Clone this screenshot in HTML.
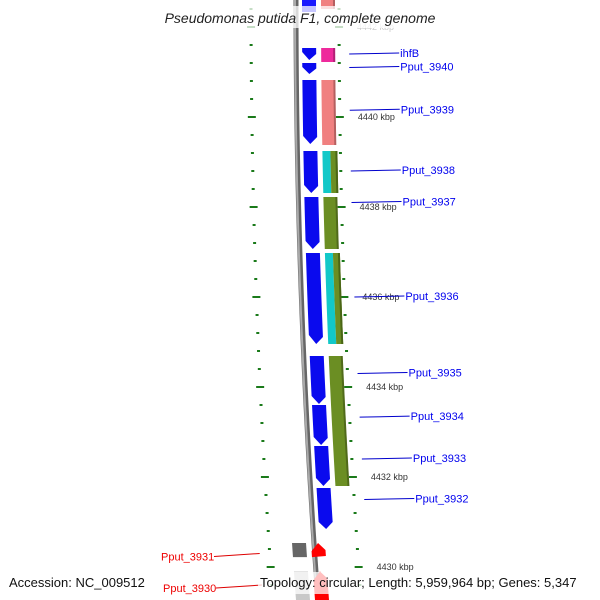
<!DOCTYPE html>
<html><head><meta charset="utf-8"><style>
html,body{margin:0;padding:0;background:#fff;}
svg{display:block;font-family:"Liberation Sans",sans-serif;}
</style></head><body>
<svg id="map" width="600" height="600" viewBox="0 0 600 600" xmlns="http://www.w3.org/2000/svg"></svg>
<script>
const geneNames=["ihfB","Pput_3940","Pput_3939","Pput_3938","Pput_3937","Pput_3936","Pput_3935","Pput_3934","Pput_3933","Pput_3932"];
const geneStart=[4441.533,4441.20,4440.822,4439.244,4438.222,4436.978,4434.689,4433.60,4432.689,4431.756];
const geneEnd=[4441.267,4440.956,4439.40,4438.311,4437.067,4434.956,4433.622,4432.711,4431.80,4430.844];
const labelKbp=[4441.4,4441.1,4440.15,4438.8,4438.1,4436.0,4434.3,4433.33,4432.4,4431.5];
const cogStart=[4441.533,4440.822,4439.244,4438.222,4436.978,4434.689,4442.7];
const cogEnd=[4441.222,4439.378,4438.311,4437.067,4434.956,4431.8,4442.4];
const cogColor=["#ee2a9c","#f08080","cyan-olive","#6b8e23","cyan-olive","#6b8e23","#f08080"];
const fwdNames=["Pput_3931","Pput_3930"];
const fwdStart=[4430.22,4429.9];
const fwdEnd=[4430.533,4429.0];
const fwdLabelKbp=[4430.3,4429.6];
const tickLabels=[4442,4440,4438,4436,4434,4432,4430];

const svg=document.getElementById('map');
const NS="http://www.w3.org/2000/svg";
const yOf=k=>117+(4440-k)*45;
const f=y=>296+22*Math.pow(y/600,2);
function mk(tag,attrs,parent){const e=document.createElementNS(NS,tag);for(const k in attrs)e.setAttribute(k,attrs[k]);(parent||svg).appendChild(e);return e;}
function strip(off,w,y1,y2,fill,name){
  const pts=[];for(let y=y1;y<=y2;y+=2)pts.push([f(y)+off,y]);pts.push([f(y2)+off,y2]);
  const back=[];for(let y=y2;y>=y1;y-=2)back.push([f(y)+off+w,y]);back.push([f(y1)+off+w,y1]);
  const p=mk('polygon',{points:pts.concat(back).map(p=>p.join(',')).join(' '),fill:fill});
  
  
  return p;
}
// backbone
let d="";for(let y=-5;y<=605;y+=5)d+=(y==-5?"M":"L")+f(y)+","+y;
const bb=mk('path',{d:d,stroke:"#666",'stroke-width':5,fill:"none"});


const bb2=mk('path',{d:d,stroke:"#aaa",'stroke-width':2,fill:"none",transform:"translate(-1,0)"});


// ticks
for(let k=4442.8;k>=4428.8;k-=0.4){
  const kk=Math.round(k*10)/10;const y=yOf(kk);if(y<0||y>600)continue;
  const major=Math.abs(kk-Math.round(kk/2)*2)<0.01;
  const w=major?8:3;
  const t1=mk('rect',{x:f(y)-45-w/2,y:y-1,width:w,height:2,fill:"#1a7a1a"});
  
  
  const t2=mk('rect',{x:f(y)+43-w/2,y:y-1,width:w,height:2,fill:"#1a7a1a"});
  
  
}
tickLabels.forEach(k=>{const y=yOf(k);
  const t=mk('text',{x:f(y)+61,y:y+3,'font-size':9,fill:k==4442?"#ccc":"#333"});t.textContent=k+" kbp";
  
  });
// COG strip
cogStart.forEach((s,i)=>{const y1=yOf(s),y2=yOf(cogEnd[i]);
  if(cogColor[i]=="cyan-olive"){strip(25,8,y1,y2,"#12c8c8","cog-block");strip(33,7,y1,y2,"#6b8e23","cog-block");strip(38,2,y1,y2,"#4a6616","cog-edge");}
  else{strip(25,14,y1,y2,cogColor[i],"cog-block");strip(37,2,y1,y2,"rgba(0,0,0,0.25)","cog-edge");}
});
// reverse genes (arrows down)
function arrow(off,w,y1,y2,fill,dir,name){
  const h=Math.min(7,(y2-y1)/2);const pts=[];
  if(dir>0){ // down
    for(let y=y1;y<=y2-h;y+=2)pts.push([f(y)+off,y]);
    pts.push([f(y2)+off+w/2,y2]);
    for(let y=y2-h;y>=y1;y-=2)pts.push([f(y)+off+w,y]);
    pts.push([f(y1)+off+w,y1]);
  } else {
    pts.push([f(y1)+off+w/2,y1]);
    for(let y=y1+h;y<=y2;y+=2)pts.push([f(y)+off+w,y]);
    for(let y=y2;y>=y1+h;y-=2)pts.push([f(y)+off,y]);
  }
  const p=mk('polygon',{points:pts.map(p=>p.join(',')).join(' '),fill:fill});
  
  
}
strip(6,14,-5,12,"#1a1aff","gene-partial");
geneStart.forEach((s,i)=>{const y1=yOf(s),y2=yOf(geneEnd[i]);
  arrow(6,14,y1,y2,"#0a0aee",1,"gene-"+geneNames[i].toLowerCase());
  const ly=yOf(labelKbp[i]);const lx=f(ly)+103;
  const l=mk('line',{x1:f(ly)+53,y1:ly,x2:lx,y2:ly-1,stroke:"#0000cc",'stroke-width':1});
  
  
  const t=mk('text',{x:lx+1,y:ly+3,'font-size':11,fill:"#0000ee"});t.textContent=geneNames[i];
  
  
});
// forward genes bottom
fwdStart.forEach((s,i)=>{const y1=yOf(fwdEnd[i])<yOf(s)?yOf(fwdEnd[i]):yOf(s);const y2=Math.max(yOf(fwdEnd[i]),yOf(s));
  arrow(-3,14,y1,y2,"#ff0000",-1,"gene-"+fwdNames[i].toLowerCase());
  strip(-22,14,y1,y2,i==0?"#666":"#c8c8c8","cog-block");
  const ly=yOf(fwdLabelKbp[i]);
  const l=mk('line',{x1:i==0?214:216,y1:ly+3,x2:f(ly)-55,y2:ly,stroke:"#dd0000",'stroke-width':1});
  
  
  const t=mk('text',{x:i==0?161:163,y:ly+7,'font-size':11,fill:"#ee0000"});t.textContent=fwdNames[i];
  
  
});
// title and footer
const tb=mk('rect',{x:145,y:6,width:310,height:22,fill:"rgba(255,255,255,0.75)"});


const tt=mk('text',{x:300,y:23,'font-size':14,'font-style':'italic','text-anchor':'middle',fill:"#222"});tt.textContent="Pseudomonas putida F1, complete genome";


const fb=mk('rect',{x:258,y:572,width:336,height:22,fill:"rgba(255,255,255,0.75)"});


const a=mk('text',{x:9,y:587,'font-size':13,fill:"#111"});a.textContent="Accession: NC_009512";


const tp=mk('text',{x:260,y:587,'font-size':13,fill:"#111"});tp.textContent="Topology: circular; Length: 5,959,964 bp; Genes: 5,347";


</script>
</body></html>
